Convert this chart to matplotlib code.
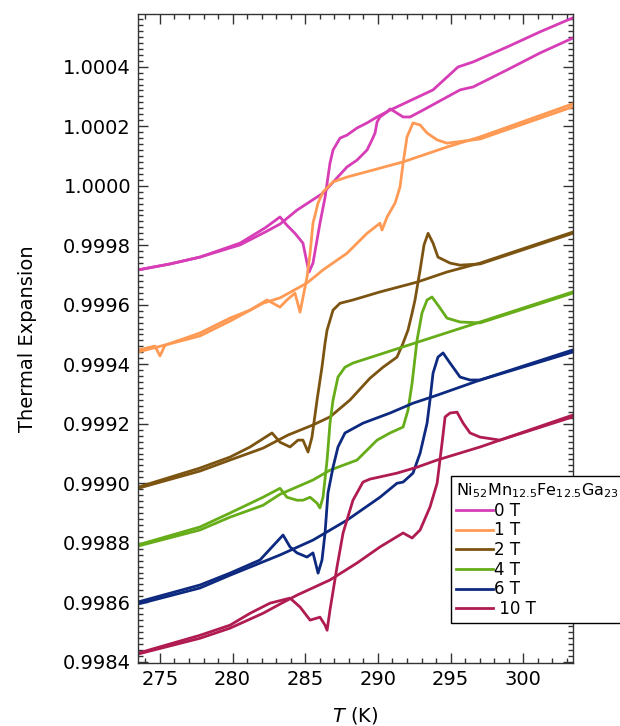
import matplotlib
matplotlib.use("Agg")
import matplotlib.pyplot as plt
from matplotlib.lines import Line2D
from matplotlib.ticker import MultipleLocator, FormatStrFormatter

plt.rcParams["font.family"] = "DejaVu Sans"
plt.rcParams["mathtext.default"] = "regular"

# ── data (T in K, relative length) ─────────────────────────────────────
# cooling branch (with undershoot dip) and heating branch (with overshoot)
T0_cool = [273.49, 275.69, 277.75, 280.51, 282.23, 283.26, 283.74, 284.29, 284.84, 285.12,
           285.26, 285.53, 286.01, 286.36, 286.70, 286.91, 287.39, 287.87, 288.56, 289.25,
           289.94, 290.83, 293.79, 295.51, 296.55, 298.88, 301.15, 303.40]
L0_cool = [0.999717, 0.999737, 0.999760, 0.999807, 0.999858, 0.999895, 0.999867, 0.999840,
           0.999807, 0.999740, 0.999710, 0.999740, 0.999874, 0.999961, 1.000076, 1.000120,
           1.000160, 1.000170, 1.000194, 1.000211, 1.000231, 1.000254, 1.000322, 1.000399,
           1.000416, 1.000466, 1.000517, 1.000564]
T0_heat = [273.49, 275.69, 277.75, 280.51, 282.23, 283.26, 284.43, 286.22, 287.87, 288.56,
           289.25, 289.59, 289.80, 289.94, 290.14, 290.63, 290.83, 291.18, 291.73, 292.21,
           293.10, 295.65, 296.55, 298.88, 301.15, 303.40]
L0_heat = [0.999717, 0.999737, 0.999760, 0.999801, 0.999844, 0.999871, 0.999918, 0.999975,
           1.000063, 1.000086, 1.000120, 1.000154, 1.000177, 1.000214, 1.000231, 1.000248,
           1.000258, 1.000248, 1.000231, 1.000231, 1.000254, 1.000322, 1.000332, 1.000389,
           1.000446, 1.000496]

T1_cool = [273.49, 274.66, 275.00, 275.35, 277.75, 279.82, 281.20, 282.37, 283.26, 283.74,
           284.29, 284.64, 285.12, 285.33, 285.53, 285.88, 286.22, 286.91, 287.87, 290.14,
           291.73, 294.75, 297.03, 303.40]
L1_cool = [0.999448, 0.999461, 0.999428, 0.999464, 0.999505, 0.999555, 0.999582, 0.999616,
           0.999592, 0.999616, 0.999639, 0.999575, 0.999693, 0.999773, 0.999874, 0.999942,
           0.999979, 1.000013, 1.000029, 1.000059, 1.000080, 1.000130, 1.000164, 1.000275]
T1_heat = [273.49, 277.75, 279.82, 282.09, 283.26, 285.12, 286.22, 287.87, 289.25, 290.14,
           290.28, 290.63, 291.18, 291.52, 291.73, 292.00, 292.41, 292.90, 293.38, 294.07,
           294.75, 295.44, 297.03, 303.40]
L1_heat = [0.999441, 0.999495, 0.999545, 0.999605, 0.999623, 0.999673, 0.999717, 0.999773,
           0.999840, 0.999874, 0.999851, 0.999895, 0.999942, 0.999996, 1.000076, 1.000164,
           1.000211, 1.000204, 1.000177, 1.000154, 1.000143, 1.000147, 1.000157, 1.000265]

T2_cool = [273.49, 277.75, 279.82, 281.20, 282.71, 283.26, 283.95, 284.50, 284.84, 285.19,
           285.46, 285.81, 286.15, 286.36, 286.50, 286.91, 287.39, 288.28, 290.14, 292.69,
           294.75, 297.03, 303.40]
L2_cool = [0.998987, 0.999051, 0.999088, 0.999122, 0.999169, 0.999138, 0.999122, 0.999145,
           0.999145, 0.999105, 0.999155, 0.999280, 0.999391, 0.999471, 0.999515, 0.999582,
           0.999605, 0.999616, 0.999643, 0.999676, 0.999710, 0.999740, 0.999844]
T2_heat = [273.49, 277.75, 279.82, 282.09, 283.81, 285.53, 286.70, 288.08, 289.45, 290.35,
           291.31, 291.73, 292.07, 292.35, 292.55, 292.90, 293.17, 293.45, 293.79, 294.13,
           294.96, 295.65, 297.03, 303.40]
L2_heat = [0.998983, 0.999041, 0.999078, 0.999118, 0.999162, 0.999196, 0.999223, 0.999280,
           0.999353, 0.999390, 0.999424, 0.999471, 0.999515, 0.999572, 0.999616, 0.999717,
           0.999801, 0.999840, 0.999807, 0.999760, 0.999740, 0.999733, 0.999737, 0.999840]

T4_cool = [273.49, 277.75, 279.82, 282.09, 283.26, 283.74, 284.43, 284.84, 285.33, 285.81,
           286.01, 286.22, 286.50, 286.70, 286.91, 287.25, 287.73, 288.28, 297.03, 303.40]
L4_cool = [0.998793, 0.998853, 0.998900, 0.998953, 0.998983, 0.998953, 0.998943, 0.998943,
           0.998953, 0.998933, 0.998917, 0.998953, 0.999078, 0.999202, 0.999280, 0.999357,
           0.999390, 0.999404, 0.999542, 0.999643]
T4_heat = [273.49, 277.75, 279.82, 282.09, 283.26, 285.53, 286.70, 288.56, 289.94, 290.83,
           291.73, 292.07, 292.35, 292.69, 293.03, 293.38, 293.72, 294.27, 294.75, 295.65,
           297.03, 303.40]
L4_heat = [0.998789, 0.998843, 0.998886, 0.998926, 0.998963, 0.999011, 0.999044, 0.999078,
           0.999145, 0.999169, 0.999189, 0.999246, 0.999337, 0.999481, 0.999572, 0.999616,
           0.999626, 0.999589, 0.999555, 0.999542, 0.999539, 0.999639]

T6_cool = [273.49, 277.75, 279.82, 281.88, 283.47, 283.95, 284.43, 285.12, 285.53, 285.88,
           286.15, 286.36, 286.56, 286.91, 287.25, 287.73, 288.97, 290.83, 292.41, 294.07,
           297.03, 303.40]
L6_cool = [0.998601, 0.998658, 0.998698, 0.998742, 0.998826, 0.998786, 0.998766, 0.998752,
           0.998766, 0.998698, 0.998742, 0.998833, 0.998967, 0.999054, 0.999122, 0.999169,
           0.999202, 0.999236, 0.999269, 0.999296, 0.999347, 0.999448]
T6_heat = [273.49, 277.75, 279.82, 283.26, 285.53, 287.87, 290.14, 291.31, 291.73, 292.41,
           292.90, 293.38, 293.58, 293.79, 294.13, 294.48, 294.96, 295.65, 296.34, 297.03,
           303.40]
L6_heat = [0.998594, 0.998648, 0.998691, 0.998759, 0.998809, 0.998876, 0.998953, 0.999000,
           0.999004, 0.999034, 0.999101, 0.999202, 0.999280, 0.999370, 0.999424, 0.999438,
           0.999404, 0.999357, 0.999347, 0.999347, 0.999441]

T10_cool = [273.49, 277.75, 279.82, 281.20, 282.57, 283.95, 284.64, 285.33, 286.01, 286.36,
            286.50, 286.70, 287.18, 287.60, 288.28, 288.97, 289.45, 291.31, 292.69, 294.07,
            297.03, 303.40]
L10_cool = [0.998429, 0.998489, 0.998523, 0.998563, 0.998597, 0.998614, 0.998584, 0.998540,
            0.998550, 0.998523, 0.998506, 0.998574, 0.998718, 0.998833, 0.998943, 0.999004,
            0.999014, 0.999034, 0.999054, 0.999078, 0.999122, 0.999229]
T10_heat = [273.49, 277.75, 279.82, 282.09, 283.26, 284.43, 286.70, 288.56, 290.14, 291.73,
            292.35, 292.90, 293.58, 294.07, 294.41, 294.62, 294.96, 295.44, 295.86, 296.34,
            297.03, 298.40, 303.40]
L10_heat = [0.998426, 0.998479, 0.998513, 0.998563, 0.998594, 0.998624, 0.998675, 0.998732,
            0.998786, 0.998833, 0.998816, 0.998843, 0.998920, 0.999000, 0.999135, 0.999223,
            0.999236, 0.999239, 0.999202, 0.999169, 0.999155, 0.999145, 0.999223]

fields = ["0 T", "1 T", "2 T", "4 T", "6 T", " 10 T"]
colors = ["#d63db6", "#ff9a55", "#7c5412", "#66ad19", "#0d2a80", "#b01c52"]

curves = [
    (T0_cool, L0_cool, T0_heat, L0_heat),
    (T1_cool, L1_cool, T1_heat, L1_heat),
    (T2_cool, L2_cool, T2_heat, L2_heat),
    (T4_cool, L4_cool, T4_heat, L4_heat),
    (T6_cool, L6_cool, T6_heat, L6_heat),
    (T10_cool, L10_cool, T10_heat, L10_heat),
]

# ── figure ────────────────────────────────────────────────────────────
fig = plt.figure(figsize=(6.2, 7.26), dpi=100)
ax = fig.add_axes([0.2226, 0.0872, 0.7011, 0.8935])

for (tc, lc, th, lh), col in zip(curves, colors):
    ax.plot(tc, lc, color=col, lw=2.0, solid_joinstyle="round")
    ax.plot(th, lh, color=col, lw=2.0, solid_joinstyle="round")

ax.set_xlim(273.49, 303.4)
ax.set_ylim(0.998397, 1.000577)

ax.xaxis.set_major_locator(MultipleLocator(5))
ax.xaxis.set_minor_locator(MultipleLocator(1))
ax.yaxis.set_major_locator(MultipleLocator(0.0002))
ax.yaxis.set_minor_locator(MultipleLocator(0.00002))
ax.yaxis.set_major_formatter(FormatStrFormatter("%.4f"))

ax.tick_params(which="both", direction="in", top=True, right=True,
               color="#333333", width=1)
ax.tick_params(which="major", length=7, labelsize=14, pad=5)
ax.tick_params(which="minor", length=3.5)
for sp in ax.spines.values():
    sp.set_color("#333333")
    sp.set_linewidth(1)

ax.set_xlabel("$\\mathit{T}$ (K)", fontsize=14, labelpad=12)
ax.set_ylabel("Thermal Expansion", fontsize=14, labelpad=19)

handles = [Line2D([], [], color=c, lw=2) for c in colors]
leg = ax.legend(handles, fields, title="Ni$_{52}$Mn$_{12.5}$Fe$_{12.5}$Ga$_{23}$",
                loc="lower left", bbox_to_anchor=(0.72, 0.061), borderaxespad=0,
                fontsize=12, title_fontsize=11.5, alignment="left",
                fancybox=False, framealpha=1, edgecolor="black",
                handlelength=2.2, handletextpad=0.1, labelspacing=0.1,
                borderpad=0.3)
leg.get_frame().set_linewidth(1)

fig.savefig("out.png", dpi=100)
